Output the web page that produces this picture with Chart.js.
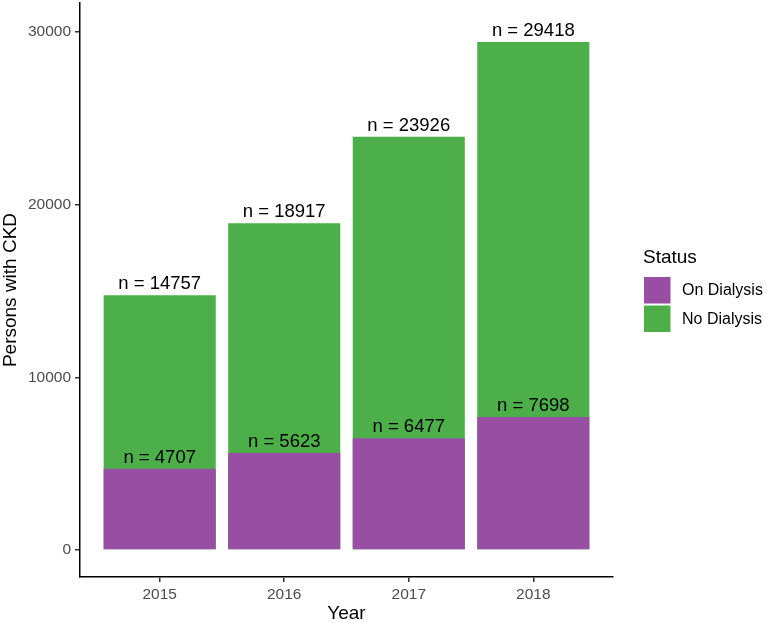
<!DOCTYPE html>
<html>
<head>
<meta charset="utf-8">
<script src="https://cdn.jsdelivr.net/npm/chart.js@4/dist/chart.umd.min.js"></script>
<style>
  body { margin: 0; background: #fff; }
</style>
</head>
<body>
<canvas id="ckdChart" width="767" height="623"></canvas>
<script>
const years = [2015, 2016, 2017, 2018];
const onDialysis = [4707, 5623, 6477, 7698];
const totalPersons = [14757, 18917, 23926, 29418];
const yTicks = [0, 10000, 20000, 30000];
const seriesNames = ["On Dialysis", "No Dialysis"];
const seriesColors = ["#984EA3", "#4DAF4A"];

const fontFamily = "'Liberation Sans', Arial, sans-serif";

// "n = ..." text above every bar
const barLabels = {
  id: "barLabels",
  afterDatasetsDraw(chart) {
    const ctx = chart.ctx;
    ctx.save();
    ctx.font = `18.5px ${fontFamily}`;
    ctx.fillStyle = "#000";
    ctx.textAlign = "center";
    ctx.textBaseline = "alphabetic";
    chart.data.datasets.forEach((ds, i) => {
      chart.getDatasetMeta(i).data.forEach((bar, j) => {
        ctx.fillText(`n = ${ds.data[j].y}`, bar.x, bar.y - 6);
      });
    });
    ctx.restore();
  },
};

// ggplot style legend on the right
const sideLegend = {
  id: "sideLegend",
  afterDraw(chart) {
    const ctx = chart.ctx;
    const left = 644;
    let top = 277;
    ctx.save();
    ctx.fillStyle = "#000";
    ctx.font = `19px ${fontFamily}`;
    ctx.textAlign = "left";
    ctx.textBaseline = "alphabetic";
    ctx.fillText("Status", left - 1, 263);
    ctx.font = `16px ${fontFamily}`;
    ctx.textBaseline = "middle";
    chart.data.datasets.forEach((ds) => {
      ctx.fillStyle = ds.backgroundColor;
      ctx.fillRect(left, top, 26.5, 26.5);
      ctx.fillStyle = "#000";
      ctx.fillText(ds.label, 682, top + 14);
      top += 28.5;
    });
    ctx.restore();
  },
};

const toPoints = (values) => years.map((y, i) => ({ x: y, y: values[i] }));

new Chart(document.getElementById("ckdChart"), {
  type: "bar",
  data: {
    datasets: [
      {
        label: seriesNames[0],
        data: toPoints(onDialysis),
        backgroundColor: seriesColors[0],
      },
      {
        label: seriesNames[1],
        data: toPoints(totalPersons),
        backgroundColor: seriesColors[1],
      },
    ],
  },
  options: {
    responsive: false,
    animation: false,
    layout: { padding: { top: 3, right: 154, bottom: 0, left: 0 } },
    datasets: {
      bar: { grouped: false, categoryPercentage: 1, barPercentage: 0.9 },
    },
    plugins: {
      legend: { display: false },
      tooltip: { enabled: false },
    },
    scales: {
      x: {
        type: "linear",
        offset: false,
        min: 2014.36,
        max: 2018.64,
        afterBuildTicks: (scale) => {
          scale.ticks = years.map((v) => ({ value: v }));
        },
        afterFit: (scale) => {
          scale.height = 46;
          scale.paddingLeft = 0;
          scale.paddingRight = 0;
        },
        ticks: {
          color: "#4D4D4D",
          font: { family: fontFamily, size: 15.5 },
          padding: 3,
          callback: (v) => String(v),
        },
        grid: {
          offset: false,
          drawOnChartArea: false,
          tickLength: 5,
          color: "#333333",
          lineWidth: 1.5,
        },
        border: { display: true, color: "#000", width: 1.5 },
        title: {
          display: true,
          text: "Year",
          color: "#000",
          font: { family: fontFamily, size: 19, lineHeight: 1 },
          padding: 0,
        },
      },
      y: {
        min: -1564,
        max: 31679,
        afterBuildTicks: (scale) => {
          scale.ticks = yTicks.map((v) => ({ value: v }));
        },
        afterFit: (scale) => {
          scale.width = 80;
          scale.paddingTop = 0;
          scale.paddingBottom = 0;
        },
        ticks: {
          color: "#4D4D4D",
          font: { family: fontFamily, size: 15.5 },
          padding: 4,
          callback: (v) => String(v),
        },
        grid: {
          drawOnChartArea: false,
          tickLength: 5,
          color: "#333333",
          lineWidth: 1.5,
        },
        border: { display: true, color: "#000", width: 1.5 },
        title: {
          display: true,
          text: "Persons with CKD",
          color: "#000",
          font: { family: fontFamily, size: 19, lineHeight: 1.1 },
          padding: 0,
        },
      },
    },
  },
  plugins: [barLabels, sideLegend],
});
</script>
</body>
</html>
